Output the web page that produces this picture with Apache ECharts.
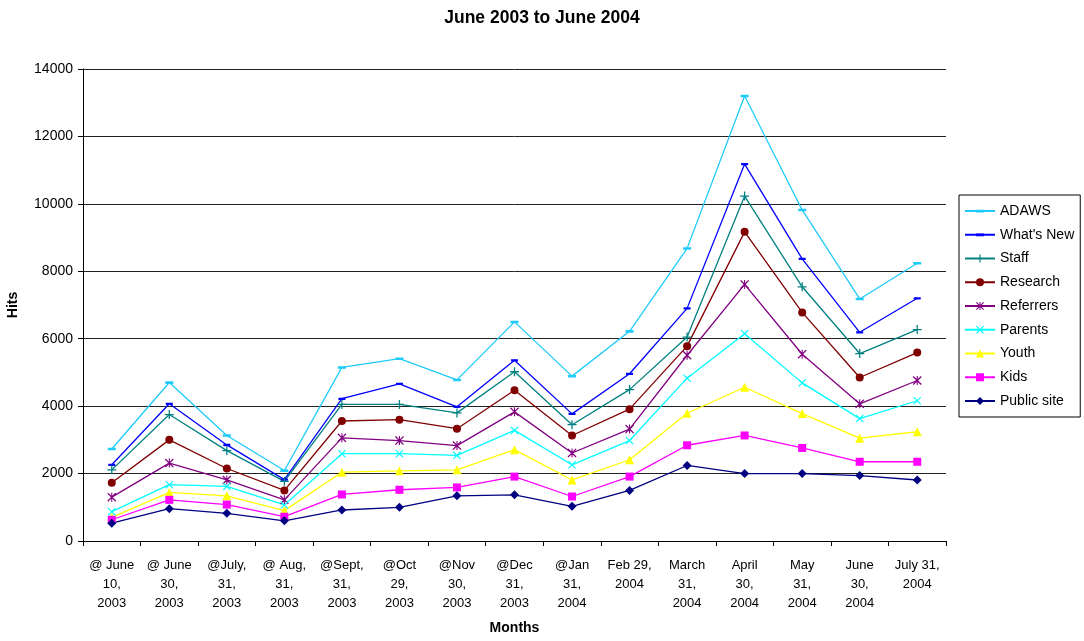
<!DOCTYPE html>
<html>
<head>
<meta charset="utf-8">
<title>June 2003 to June 2004</title>
<script src="https://cdn.jsdelivr.net/npm/echarts@6/dist/echarts.min.js"></script>
<style>
	html, body { margin: 0; padding: 0; background: #fff; }
	#myChart { width: 1084px; height: 641px; }
</style>
</head>
<body>
<div id="myChart"></div>
<script>
	var months = [
		"@ June\n10,\n2003", "@ June\n30,\n2003", "@July,\n31,\n2003", "@ Aug,\n31,\n2003",
		"@Sept,\n31,\n2003", "@Oct\n29,\n2003", "@Nov\n30,\n2003", "@Dec\n31,\n2003",
		"@Jan\n31,\n2004", "Feb 29,\n2004", "March\n31,\n2004", "April\n30,\n2004",
		"May\n31,\n2004", "June\n30,\n2004", "July 31,\n2004"
	];
	var yTicks = [0, 2000, 4000, 6000, 8000, 10000, 12000, 14000];

	var adaws     = [2730, 4700, 3130, 2090, 5150, 5410, 4780, 6500, 4890, 6220, 8680, 13200, 9820, 7180, 8240];
	var whatsNew  = [2260, 4070, 2850, 1820, 4220, 4660, 3980, 5360, 3770, 4960, 6900, 11180, 8370, 6190, 7200];
	var staff     = [2110, 3750, 2680, 1770, 4050, 4050, 3800, 5020, 3450, 4490, 6050, 10230, 7540, 5560, 6270];
	var research  = [1730, 3000, 2150, 1500, 3560, 3600, 3330, 4470, 3130, 3910, 5780, 9170, 6780, 4850, 5590];
	var referrers = [1300, 2310, 1810, 1220, 3060, 2980, 2830, 3830, 2610, 3320, 5510, 7610, 5540, 4070, 4760];
	var parents   = [870, 1670, 1620, 1070, 2590, 2590, 2540, 3280, 2260, 2980, 4830, 6150, 4690, 3630, 4160];
	var youth     = [700, 1440, 1340, 900, 2040, 2080, 2110, 2710, 1810, 2410, 3790, 4560, 3780, 3050, 3240];
	var kids      = [630, 1220, 1080, 720, 1380, 1520, 1590, 1910, 1320, 1910, 2840, 3130, 2760, 2350, 2350];
	var publicSite = [530, 960, 820, 600, 920, 1000, 1340, 1370, 1030, 1500, 2240, 2000, 2000, 1940, 1810];

	var font = "'Liberation Sans', Arial, sans-serif";

	// marker shapes that echarts does not have built in
	// the dash keeps a square box (empty corner points) so the legend draws it flat too
	var dashPath = "path://M0,0L0.01,0L0,0.01ZM0,2.8H8V5.4H0ZM8,8L7.99,8L8,7.99Z";
	var plusPath = "path://M4.3,0H5.7V4.3H10V5.7H5.7V10H4.3V5.7H0V4.3H4.3Z";
	var crossPath = "path://M0,1L1,0L5,4L9,0L10,1L6,5L10,9L9,10L5,6L1,10L0,9L4,5Z";
	var starPath = "path://M0,1L1,0L5,4L9,0L10,1L6,5L10,9L9,10L5,6L1,10L0,9L4,5Z" +
		"M4.4,0H5.6V10H4.4Z";

	function line(name, data, color, symbol, size){
		return {
			name: name,
			type: "line",
			data: data,
			symbol: symbol,
			symbolSize: size,
			symbolKeepAspect: true,
			showSymbol: true,
			lineStyle: { color: color, width: 1.3 },
			itemStyle: { color: color, borderWidth: 0 },
			emphasis: { disabled: true }
		};
	}

	var series = [
		line("ADAWS", adaws, "#1ECBFA", dashPath, 8),
		line("What's New", whatsNew, "#0000FF", dashPath, 7),
		line("Staff", staff, "#008080", plusPath, 9),
		line("Research", research, "#800000", "circle", 8),
		line("Referrers", referrers, "#800080", starPath, 9),
		line("Parents", parents, "#00FFFF", crossPath, 8),
		line("Youth", youth, "#FFFF00", "triangle", 9),
		line("Kids", kids, "#FF00FF", "rect", 8),
		line("Public site", publicSite, "#000080", "diamond", 9)
	];

	var myChart = echarts.init(document.getElementById("myChart"));
	myChart.setOption({
		animation: false,
		backgroundColor: "#fff",
		textStyle: { fontFamily: font, color: "#000" },
		title: {
			text: "June 2003 to June 2004",
			left: "center",
			top: 4,
			textStyle: { fontFamily: font, fontSize: 17.5, fontWeight: "bold", color: "#000" }
		},
		legend: {
			orient: "vertical",
			left: 959,
			top: 195,
			width: 121,
			padding: [9, 6, 9, 5],
			itemGap: 9.75,
			itemWidth: 30,
			itemHeight: 10,
			borderColor: "#000",
			borderWidth: 1,
			backgroundColor: "#fff",
			textStyle: { fontFamily: font, fontSize: 14, color: "#000" },
			data: series.map(function(s){ return s.name; })
		},
		grid: { left: 83, right: 138, top: 69, bottom: 100, containLabel: false, outerBoundsMode: "none" },
		xAxis: {
			type: "category",
			data: months,
			boundaryGap: true,
			name: "Months",
			nameLocation: "middle",
			nameGap: 80,
			nameTextStyle: { fontFamily: font, fontSize: 14, fontWeight: "bold", color: "#000" },
			axisLine: { lineStyle: { color: "#000", width: 1 } },
			axisTick: { show: true, length: 5, alignWithLabel: false, lineStyle: { color: "#000" } },
			axisLabel: {
				interval: 0,
				margin: 15,
				fontFamily: font,
				fontSize: 13,
				lineHeight: 19,
				color: "#000",
				align: "center",
				verticalAlign: "top"
			},
			splitLine: { show: false }
		},
		yAxis: {
			type: "value",
			min: yTicks[0],
			max: yTicks[yTicks.length - 1],
			interval: yTicks[1] - yTicks[0],
			name: "Hits",
			nameLocation: "middle",
			nameGap: 63,
			nameRotate: 90,
			nameTextStyle: { fontFamily: font, fontSize: 14, fontWeight: "bold", color: "#000" },
			axisLine: { show: true, lineStyle: { color: "#000", width: 1 } },
			axisTick: { show: true, length: 5, lineStyle: { color: "#000" } },
			axisLabel: {
				margin: 10,
				fontFamily: font,
				fontSize: 14,
				color: "#000",
				formatter: function(v){ return String(v); }
			},
			splitLine: { show: true, lineStyle: { color: "#222", width: 1 } }
		},
		series: series
	});
</script>
</body>
</html>
